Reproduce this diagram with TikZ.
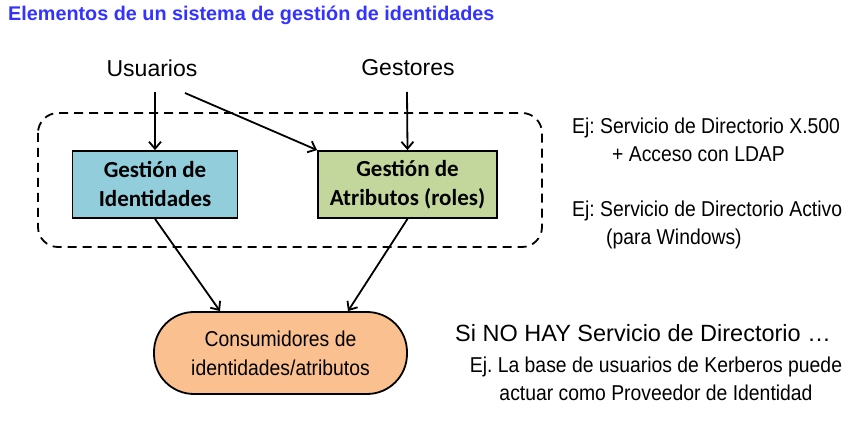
\documentclass[tikz,border=0pt]{standalone}
\usepackage{fontspec}
\setmainfont{Liberation Sans}
\newfontfamily\narrowfont[FakeStretch=0.9]{Liberation Sans}
\newfontfamily\boxfont{Carlito}
\usetikzlibrary{arrows.meta,positioning}
\definecolor{titleblue}{RGB}{51,51,255}
\definecolor{idblue}{RGB}{146,205,220}
\definecolor{attrgreen}{RGB}{195,214,155}
\definecolor{consorange}{RGB}{250,192,144}
\frenchspacing

\begin{document}
\begin{tikzpicture}[x=1pt,y=-1pt,
   every node/.style={inner sep=0pt},
   flow/.style={line width=1.8pt,-{Straight Barb[length=7pt,width=12pt,line width=1.8pt]}},
   mgmt box/.style={draw,line width=1.8pt,minimum width=165pt,minimum height=67pt,
      align=center,font=\boxfont\bfseries\fontsize{23}{29}\selectfont},
   actor/.style={font=\fontsize{23}{26}\selectfont},
   note/.style={align=left,font=\narrowfont\fontsize{21.5}{28}\selectfont}]
\useasboundingbox (0,0) rectangle (852,427);
\node[anchor=west,text=titleblue,font=\bfseries\fontsize{19.8}{24}\selectfont] (title) at (8,15)
   {Elementos de un sistema de gestión de identidades};
\draw[dashed,line width=1.8pt,dash pattern=on 9pt off 6pt,rounded corners=20pt]
   (38,113) rectangle (542,247);
\node[actor] (usuarios) at (152,68) {Usuarios};
\node[actor] (gestores) at (408,68) {Gestores};
\node[mgmt box,fill=idblue] (identidades) at (155,184.5) {Gestión de\\Identidades};
\node[mgmt box,fill=attrgreen,minimum width=179pt] (atributos) at (407.5,184.5)
   {Gestión de\\Atributos (roles)};
\node[draw,line width=1.8pt,fill=consorange,rounded corners=40pt,minimum width=253pt,
   minimum height=82pt,align=center,font=\narrowfont\fontsize{21.5}{29}\selectfont]
   (consumidores) at (280.5,353) {Consumidores de\\identidades/atributos};
\coordinate (usuariosA) at (155,92);
\coordinate (usuariosB) at (185,93);
\coordinate (gestoresA) at (407,92);
\draw[flow] (usuariosA) -- (identidades.north);
\draw[flow] (usuariosB) -- (atributos.north west);
\draw[flow] (gestoresA) -- (atributos.north);
\draw[flow] (identidades.south) -- (consumidores.north -| 220,0);
\draw[flow] (atributos.south) -- (consumidores.north -| 348,0);
\node[note,anchor=north west] (ejx) at (572,118)
   {Ej: Servicio de Directorio X.500\\\hspace*{40pt}+ Acceso con LDAP};
\node[note,anchor=north west] (ejad) at (572,201)
   {Ej: Servicio de Directorio Activo\\\hspace*{34pt}(para Windows)};
\node[anchor=west,font=\fontsize{23.5}{26}\selectfont] (sinohay) at (455,333)
   {Si NO HAY Servicio de Directorio \dots};
\node[note,align=center,anchor=north] (kerberos) at (656,357)
   {Ej. La base de usuarios de Kerberos puede\\actuar como Proveedor de Identidad};
\end{tikzpicture}
\end{document}
